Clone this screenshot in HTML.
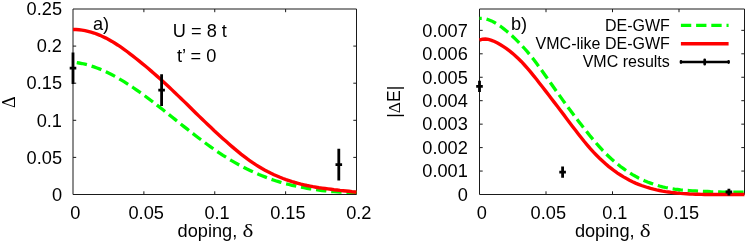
<!DOCTYPE html>
<html><head><meta charset="utf-8"><title>plot</title>
<style>
html,body{margin:0;padding:0;background:#fff;}
body{width:747px;height:244px;overflow:hidden;}
svg{display:block;}
text{font-family:"Liberation Sans",sans-serif;fill:#000;}
</style></head><body>
<svg width="747" height="244" viewBox="0 0 747 244">
<rect width="747" height="244" fill="#fff"/>
<path d="M73.0 9.0 H356.5 V194.5 H73.0 Z" fill="none" stroke="#1a1a1a" stroke-width="1"/>
<path d="M143.88 194.5 v-3.2 M143.88 9.0 v3.2 M214.75 194.5 v-3.2 M214.75 9.0 v3.2 M285.62 194.5 v-3.2 M285.62 9.0 v3.2 M73.0 157.40 h3.2 M356.5 157.40 h-3.2 M73.0 120.30 h3.2 M356.5 120.30 h-3.2 M73.0 83.20 h3.2 M356.5 83.20 h-3.2 M73.0 46.10 h3.2 M356.5 46.10 h-3.2 " fill="none" stroke="#1a1a1a" stroke-width="1"/>
<path d="M479.5 9.0 H744.5 V194.5 H479.5 Z" fill="none" stroke="#1a1a1a" stroke-width="1"/>
<path d="M546.00 194.5 v-3.2 M546.00 9.0 v3.2 M612.50 194.5 v-3.2 M612.50 9.0 v3.2 M679.00 194.5 v-3.2 M679.00 9.0 v3.2 M479.5 171.05 h3.2 M744.5 171.05 h-3.2 M479.5 147.60 h3.2 M744.5 147.60 h-3.2 M479.5 124.15 h3.2 M744.5 124.15 h-3.2 M479.5 100.70 h3.2 M744.5 100.70 h-3.2 M479.5 77.25 h3.2 M744.5 77.25 h-3.2 M479.5 53.80 h3.2 M744.5 53.80 h-3.2 M479.5 30.35 h3.2 M744.5 30.35 h-3.2 " fill="none" stroke="#1a1a1a" stroke-width="1"/>
<g style="filter:grayscale(1)">
<text x="62.0" y="200.7" text-anchor="end" font-size="18.2" >0</text>
<text x="62.0" y="163.6" text-anchor="end" font-size="18.2" >0.05</text>
<text x="62.0" y="126.5" text-anchor="end" font-size="18.2" >0.1</text>
<text x="62.0" y="89.4" text-anchor="end" font-size="18.2" >0.15</text>
<text x="62.0" y="52.2" text-anchor="end" font-size="18.2" >0.2</text>
<text x="62.0" y="15.2" text-anchor="end" font-size="18.2" >0.25</text>
<text x="75.3" y="218.7" text-anchor="middle" font-size="18.2" >0</text>
<text x="146.2" y="218.7" text-anchor="middle" font-size="18.2" >0.05</text>
<text x="217.1" y="218.7" text-anchor="middle" font-size="18.2" >0.1</text>
<text x="287.9" y="218.7" text-anchor="middle" font-size="18.2" >0.15</text>
<text x="358.8" y="218.7" text-anchor="middle" font-size="18.2" >0.2</text>
<text x="467.8" y="200.7" text-anchor="end" font-size="18.2" >0</text>
<text x="467.8" y="177.2" text-anchor="end" font-size="18.2" >0.001</text>
<text x="467.8" y="153.8" text-anchor="end" font-size="18.2" >0.002</text>
<text x="467.8" y="130.3" text-anchor="end" font-size="18.2" >0.003</text>
<text x="467.8" y="106.9" text-anchor="end" font-size="18.2" >0.004</text>
<text x="467.8" y="83.5" text-anchor="end" font-size="18.2" >0.005</text>
<text x="467.8" y="60.0" text-anchor="end" font-size="18.2" >0.006</text>
<text x="467.8" y="36.6" text-anchor="end" font-size="18.2" >0.007</text>
<text x="481.8" y="218.7" text-anchor="middle" font-size="18.2" >0</text>
<text x="548.3" y="218.7" text-anchor="middle" font-size="18.2" >0.05</text>
<text x="614.8" y="218.7" text-anchor="middle" font-size="18.2" >0.1</text>
<text x="681.3" y="218.7" text-anchor="middle" font-size="18.2" >0.15</text>
<text x="177.6" y="236.8" text-anchor="start" font-size="18.2" >doping,</text>
<text transform="translate(242.4 236.8) scale(1.28 1)" font-size="18" style="font-family:'Liberation Serif',serif">δ</text>
<text x="574.9" y="236.8" text-anchor="start" font-size="18.2" >doping,</text>
<text transform="translate(639.7 236.8) scale(1.28 1)" font-size="18" style="font-family:'Liberation Serif',serif">δ</text>
<text transform="translate(15.3 102.2) rotate(-90) scale(0.97 1)" text-anchor="middle" font-size="18.6" style="font-family:'Liberation Serif',serif">Δ</text>
<text transform="translate(399.8 101.7) rotate(-90)" text-anchor="middle" font-size="17.5">|<tspan font-family="Liberation Serif">Δ</tspan>E|</text>
<text x="93.0" y="30.2" text-anchor="start" font-size="18.2" >a)</text>
<text x="172.8" y="37.4" text-anchor="start" font-size="18.2" >U = 8 t</text>
<text x="177.0" y="61.8" text-anchor="start" font-size="18.2" >t’ = 0</text>
<text x="511.0" y="30.2" text-anchor="start" font-size="18.2" >b)</text>
<text x="669.8" y="30.6" text-anchor="end" font-size="16" >DE-GWF</text>
<text x="669.8" y="48.9" text-anchor="end" font-size="16" >VMC-like DE-GWF</text>
<text x="669.8" y="67.1" text-anchor="end" font-size="16" >VMC results</text>
</g>
<path d="M73.0 62.2 L76.0 62.5 L79.0 63.0 L82.0 63.5 L85.0 64.2 L88.0 65.0 L91.0 65.9 L94.0 66.9 L97.0 68.0 L100.0 69.1 L103.0 70.4 L106.0 71.8 L109.0 73.3 L112.0 74.8 L115.0 76.4 L118.0 78.1 L121.0 79.9 L124.0 81.7 L127.0 83.6 L130.0 85.5 L133.0 87.5 L136.0 89.6 L139.0 91.7 L142.0 93.8 L145.0 96.0 L148.0 98.3 L151.0 100.5 L154.0 102.8 L157.0 105.1 L160.0 107.5 L163.0 109.8 L166.0 112.2 L169.0 114.6 L172.0 117.0 L175.0 119.4 L178.0 121.8 L181.0 124.2 L184.0 126.6 L187.0 128.9 L190.0 131.3 L193.0 133.6 L196.0 136.0 L199.0 138.3 L202.0 140.5 L205.0 142.8 L208.0 145.0 L211.0 147.1 L214.0 149.2 L217.0 151.3 L220.0 153.3 L223.0 155.3 L226.0 157.2 L229.0 159.1 L232.0 160.9 L235.0 162.6 L238.0 164.3 L241.0 165.9 L244.0 167.5 L247.0 169.0 L250.0 170.4 L253.0 171.8 L256.0 173.2 L259.0 174.5 L262.0 175.7 L265.0 176.9 L268.0 178.1 L271.0 179.2 L274.0 180.2 L277.0 181.2 L280.0 182.1 L283.0 183.0 L286.0 183.8 L289.0 184.5 L292.0 185.3 L295.0 185.9 L298.0 186.6 L301.0 187.2 L304.0 187.7 L307.0 188.3 L310.0 188.8 L313.0 189.2 L316.0 189.7 L319.0 190.1 L322.0 190.5 L325.0 190.8 L328.0 191.2 L331.0 191.5 L334.0 191.7 L337.0 191.9 L340.0 192.1 L343.0 192.3 L346.0 192.4 L349.0 192.4 L352.0 192.4 L355.0 192.4 L356.5 192.4" fill="none" stroke="#00ff00" stroke-width="3.3" stroke-dasharray="10.4 4.87" stroke-dashoffset="11.5"/>
<path d="M73.0 29.5 L76.0 29.5 L79.0 29.8 L82.0 30.1 L85.0 30.6 L88.0 31.3 L91.0 32.1 L94.0 33.0 L97.0 34.1 L100.0 35.3 L103.0 36.7 L106.0 38.1 L109.0 39.7 L112.0 41.4 L115.0 43.3 L118.0 45.2 L121.0 47.2 L124.0 49.3 L127.0 51.5 L130.0 53.8 L133.0 56.1 L136.0 58.5 L139.0 60.9 L142.0 63.3 L145.0 65.8 L148.0 68.3 L151.0 70.9 L154.0 73.5 L157.0 76.1 L160.0 78.8 L163.0 81.5 L166.0 84.3 L169.0 87.0 L172.0 89.9 L175.0 92.7 L178.0 95.6 L181.0 98.5 L184.0 101.4 L187.0 104.3 L190.0 107.3 L193.0 110.2 L196.0 113.2 L199.0 116.1 L202.0 119.0 L205.0 121.9 L208.0 124.8 L211.0 127.6 L214.0 130.5 L217.0 133.2 L220.0 136.0 L223.0 138.7 L226.0 141.3 L229.0 144.0 L232.0 146.6 L235.0 149.1 L238.0 151.6 L241.0 154.1 L244.0 156.4 L247.0 158.7 L250.0 160.8 L253.0 162.9 L256.0 164.9 L259.0 166.7 L262.0 168.5 L265.0 170.2 L268.0 171.8 L271.0 173.3 L274.0 174.7 L277.0 176.0 L280.0 177.3 L283.0 178.5 L286.0 179.6 L289.0 180.6 L292.0 181.6 L295.0 182.5 L298.0 183.3 L301.0 184.1 L304.0 184.8 L307.0 185.5 L310.0 186.1 L313.0 186.7 L316.0 187.2 L319.0 187.7 L322.0 188.1 L325.0 188.5 L328.0 188.9 L331.0 189.3 L334.0 189.7 L337.0 190.0 L340.0 190.4 L343.0 190.7 L346.0 191.0 L349.0 191.3 L352.0 191.7 L355.0 192.0 L356.5 192.2" fill="none" stroke="#ff0000" stroke-width="3.4"/>
<path d="M479.5 18.4 L482.5 18.4 L485.5 18.8 L488.5 19.7 L491.5 20.9 L494.5 22.5 L497.5 24.3 L500.5 26.3 L503.5 28.6 L506.5 31.0 L509.5 33.5 L512.5 36.2 L515.5 39.1 L518.5 42.1 L521.5 45.2 L524.5 48.5 L527.5 51.9 L530.5 55.6 L533.5 59.3 L536.5 63.3 L539.5 67.4 L542.5 71.5 L545.5 75.8 L548.5 80.0 L551.5 84.3 L554.5 88.5 L557.5 92.7 L560.5 96.9 L563.5 101.1 L566.5 105.2 L569.5 109.3 L572.5 113.3 L575.5 117.3 L578.5 121.2 L581.5 125.1 L584.5 128.9 L587.5 132.6 L590.5 136.4 L593.5 140.0 L596.5 143.5 L599.5 146.9 L602.5 150.2 L605.5 153.3 L608.5 156.2 L611.5 159.0 L614.5 161.6 L617.5 164.1 L620.5 166.5 L623.5 168.7 L626.5 170.8 L629.5 172.7 L632.5 174.6 L635.5 176.3 L638.5 177.9 L641.5 179.3 L644.5 180.7 L647.5 182.0 L650.5 183.1 L653.5 184.2 L656.5 185.1 L659.5 186.0 L662.5 186.8 L665.5 187.5 L668.5 188.1 L671.5 188.6 L674.5 189.1 L677.5 189.5 L680.5 189.9 L683.5 190.1 L686.5 190.4 L689.5 190.6 L692.5 190.8 L695.5 190.9 L698.5 191.1 L701.5 191.3 L704.5 191.4 L707.5 191.5 L710.5 191.7 L713.5 191.8 L716.5 191.9 L719.5 192.0 L722.5 192.1 L725.5 192.1 L728.5 192.1 L731.5 192.2 L734.5 192.2 L737.5 192.2 L740.5 192.2 L743.5 192.2 L744.5 192.2" fill="none" stroke="#00ff00" stroke-width="3.3" stroke-dasharray="10.35 4.85" stroke-dashoffset="8.1"/>
<path d="M479.5 40.2 L482.5 39.2 L485.5 39.0 L488.5 39.4 L491.5 40.3 L494.5 41.5 L497.5 43.0 L500.5 44.7 L503.5 46.6 L506.5 48.6 L509.5 50.9 L512.5 53.3 L515.5 55.9 L518.5 58.7 L521.5 61.7 L524.5 65.0 L527.5 68.4 L530.5 71.9 L533.5 75.6 L536.5 79.3 L539.5 83.2 L542.5 87.0 L545.5 90.9 L548.5 94.8 L551.5 98.7 L554.5 102.6 L557.5 106.5 L560.5 110.5 L563.5 114.4 L566.5 118.4 L569.5 122.4 L572.5 126.4 L575.5 130.3 L578.5 134.2 L581.5 138.0 L584.5 141.8 L587.5 145.4 L590.5 148.9 L593.5 152.2 L596.5 155.3 L599.5 158.3 L602.5 161.1 L605.5 163.8 L608.5 166.4 L611.5 168.7 L614.5 171.0 L617.5 173.1 L620.5 175.0 L623.5 176.9 L626.5 178.6 L629.5 180.2 L632.5 181.7 L635.5 183.1 L638.5 184.3 L641.5 185.5 L644.5 186.5 L647.5 187.5 L650.5 188.4 L653.5 189.2 L656.5 189.9 L659.5 190.5 L662.5 191.1 L665.5 191.6 L668.5 192.0 L671.5 192.4 L674.5 192.7 L677.5 193.1 L680.5 193.4 L683.5 193.6 L686.5 193.8 L689.5 194.0 L692.5 194.1 L695.5 194.2 L698.5 194.3 L701.5 194.4 L704.5 194.5 L707.5 194.5 L710.5 194.5 L713.5 194.5 L716.5 194.5 L719.5 194.5 L722.5 194.5 L725.5 194.5 L728.5 194.5 L731.5 194.5 L734.5 194.5 L737.5 194.5 L740.5 194.5 L743.5 194.5 L744.5 194.5" fill="none" stroke="#ff0000" stroke-width="3.4"/>
<path d="M680.9 25.3 H728.6" fill="none" stroke="#00ff00" stroke-width="3.3" stroke-dasharray="10.35 4.85"/>
<path d="M680.9 43.75 H728.6" fill="none" stroke="#ff0000" stroke-width="3.4"/>
<path d="M681.0 62.0 H728.6 M704.7 59.8 V64.2 M681.0 61.4 V62.6 M728.6 61.4 V62.6" fill="none" stroke="#000" stroke-width="2.7" stroke-linecap="round"/>
<path d="M73.0 52.4 V84.1 M69.7 68.2 H76.3" fill="none" stroke="#000" stroke-width="2.8"/>
<path d="M161.6 74.3 V105.9 M158.3 90.1 H164.9" fill="none" stroke="#000" stroke-width="2.8"/>
<path d="M338.8 148.8 V180.5 M335.5 164.7 H342.1" fill="none" stroke="#000" stroke-width="2.8"/>
<path d="M479.5 80.7 V92.1 M476.2 86.4 H482.8" fill="none" stroke="#000" stroke-width="2.8"/>
<path d="M562.6 166.4 V177.7 M559.3 172.1 H565.9" fill="none" stroke="#000" stroke-width="2.8"/>
<path d="M728.9 188.7 V195.4 M725.6 192.0 H732.2" fill="none" stroke="#000" stroke-width="2.8"/>
</svg>
</body></html>
